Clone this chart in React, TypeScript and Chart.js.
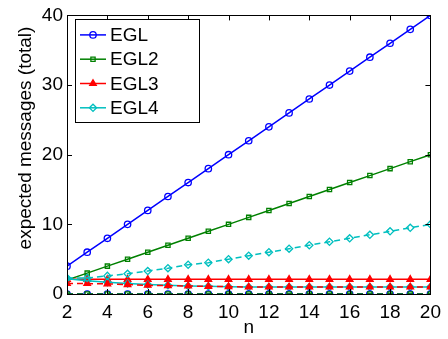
import React, { useEffect, useRef } from "react";
import { Chart, registerables } from "chart.js";
import { drawPoint } from "chart.js/helpers";

Chart.register(...registerables);

const nValues = [2, 3, 4, 5, 6, 7, 8, 9, 10, 11, 12, 13, 14, 15, 16, 17, 18, 19, 20];
const eglTotal = [4, 6, 8, 10, 12, 14, 16, 18, 20, 22, 24, 26, 28, 30, 32, 34, 36, 38, 40];
const egl2Total = [2, 3, 4, 5, 6, 7, 8, 9, 10, 11, 12, 13, 14, 15, 16, 17, 18, 19, 20];
const egl3Total = [2.1, 2.1, 2.1, 2.1, 2.1, 2.1, 2.1, 2.1, 2.1, 2.1, 2.1, 2.1, 2.1, 2.1, 2.1, 2.1, 2.1, 2.1, 2.1];
const egl4Total = [2.2, 1.9, 1.7, 1.5, 1.35, 1.25, 1.15, 1.1, 1.05, 1.0, 1.0, 1.0, 1.0, 1.0, 1.0, 1.0, 1.0, 1.0, 1.0];
const eglDashed = [0, 0, 0, 0, 0, 0, 0, 0, 0, 0, 0, 0, 0, 0, 0, 0, 0, 0, 0];
const egl2Dashed = [0, 0, 0, 0, 0, 0, 0, 0, 0, 0, 0, 0, 0, 0, 0, 0, 0, 0, 0];
const egl3Dashed = [1.5, 1.5, 1.45, 1.35, 1.25, 1.2, 1.15, 1.1, 1.05, 1.0, 1.0, 1.0, 1.0, 1.0, 1.0, 1.0, 1.0, 1.0, 1.0];
const egl4Dashed = [2.3, 2.3, 2.6, 2.9, 3.3, 3.7, 4.2, 4.5, 5.0, 5.5, 6.0, 6.5, 7.0, 7.5, 8.0, 8.5, 9.0, 9.5, 10.0];

const seriesLabels = ["EGL", "EGL2", "EGL3", "EGL4"];
const xTicks = [2, 4, 6, 8, 10, 12, 14, 16, 18, 20];
const yTicks = [0, 10, 20, 30, 40];
const xTitle = "n";
const yTitle = "expected messages (total)";

const FONT = "'Liberation Sans', Arial, sans-serif";
const BLUE = "#0000ff";
const GREEN = "#008000";
const RED = "#ff0000";
const CYAN = "#00bfbf";

const pts = (ys: number[]) => nValues.map((x, i) => ({ x, y: ys[i] }));

type Style = { color: string; pointStyle: string; fill: string };
const styles: Style[] = [
  { color: BLUE, pointStyle: "circle", fill: "rgba(0,0,0,0)" },
  { color: GREEN, pointStyle: "rect", fill: "rgba(0,0,0,0)" },
  { color: RED, pointStyle: "triangle", fill: RED },
  { color: CYAN, pointStyle: "rectRot", fill: "rgba(0,0,0,0)" },
];

const radiusFor = (ps: string) => (ps === "rect" ? 3 : ps === "rectRot" ? 3.6 : ps === "triangle" ? 3.8 : 3.2);

function ds(label: string, ys: number[], s: Style, dashed: boolean) {
  return {
    label,
    data: pts(ys),
    borderColor: s.color,
    backgroundColor: s.fill,
    borderWidth: 1.5,
    borderDash: dashed ? [6, 4] : [],
    pointStyle: s.pointStyle,
    pointRadius: radiusFor(s.pointStyle),
    pointBorderWidth: 1.3,
    pointBorderColor: s.color,
    pointBackgroundColor: s.fill,
    tension: 0,
    fill: false,
  } as any;
}

const boxPlugin = {
  id: "boxTicks",
  afterDraw(chart: any) {
    const { ctx, chartArea } = chart;
    const { left, right, top, bottom } = chartArea;
    const xs = chart.scales.x;
    const ys = chart.scales.y;
    ctx.save();
    ctx.strokeStyle = "#000";
    ctx.lineWidth = 1;
    ctx.strokeRect(Math.round(left) + 0.5, Math.round(top) + 0.5, Math.round(right - left), Math.round(bottom - top));
    const tl = 5;
    ctx.beginPath();
    xTicks.forEach((v) => {
      const px = Math.round(xs.getPixelForValue(v)) + 0.5;
      ctx.moveTo(px, bottom);
      ctx.lineTo(px, bottom - tl);
      ctx.moveTo(px, top);
      ctx.lineTo(px, top + tl);
    });
    yTicks.forEach((v) => {
      const py = Math.round(ys.getPixelForValue(v)) + 0.5;
      ctx.moveTo(left, py);
      ctx.lineTo(left + tl, py);
      ctx.moveTo(right, py);
      ctx.lineTo(right - tl, py);
    });
    ctx.stroke();

    // y-axis title
    ctx.save();
    ctx.fillStyle = "#000";
    ctx.font = `19px ${FONT}`;
    ctx.textAlign = "center";
    ctx.textBaseline = "middle";
    ctx.translate(26, 138);
    ctx.rotate(-Math.PI / 2);
    ctx.fillText(yTitle, 0, 0);
    ctx.restore();

    // legend
    const lx = left + 8;
    const ly = top + 4;
    const lw = 124;
    const lh = 103;
    ctx.fillStyle = "#fff";
    ctx.fillRect(lx, ly, lw, lh);
    ctx.strokeRect(Math.round(lx) + 0.5, Math.round(ly) + 0.5, lw, lh);
    ctx.font = `19px ${FONT}`;
    ctx.textBaseline = "middle";
    ctx.textAlign = "left";
    seriesLabels.forEach((lab, i) => {
      const s = styles[i];
      const y = ly + 15.5 + i * 24.3;
      ctx.strokeStyle = s.color;
      ctx.lineWidth = 1.5;
      ctx.setLineDash([]);
      ctx.beginPath();
      ctx.moveTo(lx + 5, y);
      ctx.lineTo(lx + 31, y);
      ctx.stroke();
      ctx.lineWidth = 1.3;
      ctx.fillStyle = s.fill;
      drawPoint(ctx, { pointStyle: s.pointStyle as any, radius: radiusFor(s.pointStyle), rotation: 0, borderWidth: 1.3 }, lx + 18, y);
      ctx.fillStyle = "#000";
      ctx.fillText(lab, lx + 35, y + 1);
    });
    ctx.restore();
  },
};

export default function App() {
  const ref = useRef<HTMLCanvasElement | null>(null);
  useEffect(() => {
    document.body.style.margin = "0";
    if (!ref.current) return;
    const datasets = [
      ds("EGL4 dashed", egl4Dashed, styles[3], true),
      ds("EGL3 dashed", egl3Dashed, styles[2], true),
      ds("EGL2 dashed", egl2Dashed, styles[1], true),
      ds("EGL dashed", eglDashed, styles[0], true),
      ds(seriesLabels[3], egl4Total, styles[3], false),
      ds(seriesLabels[2], egl3Total, styles[2], false),
      ds(seriesLabels[1], egl2Total, styles[1], false),
      ds(seriesLabels[0], eglTotal, styles[0], false),
    ];
    const chart = new Chart(ref.current, {
      type: "line",
      data: { datasets },
      options: {
        animation: false,
        responsive: false,
        maintainAspectRatio: false,
        layout: { padding: { top: 13, right: 15, left: 0, bottom: 0 } },
        plugins: { legend: { display: false }, tooltip: { enabled: false } },
        elements: { line: { borderCapStyle: "butt" } },
        scales: {
          x: {
            type: "linear",
            min: 2,
            max: 20,
            afterBuildTicks: (s: any) => {
              s.ticks = xTicks.map((v) => ({ value: v }));
            },
            afterFit: (s: any) => {
              s.height = 45;
            },
            grid: { display: false, drawTicks: false },
            border: { display: false },
            ticks: { color: "#000", font: { family: FONT, size: 19 }, padding: 7, maxRotation: 0, autoSkip: false },
            title: { display: true, text: xTitle, color: "#000", font: { family: FONT, size: 19, lineHeight: 1 }, padding: { top: 0, bottom: 2 } },
          },
          y: {
            type: "linear",
            min: 0,
            max: 40,
            afterBuildTicks: (s: any) => {
              s.ticks = yTicks.map((v) => ({ value: v }));
            },
            afterFit: (s: any) => {
              s.width = 67;
            },
            grid: { display: false, drawTicks: false },
            border: { display: false },
            ticks: { color: "#000", font: { family: FONT, size: 19 }, padding: 4 },
            title: { display: false },
          },
        },
      } as any,
      plugins: [boxPlugin],
    });
    return () => chart.destroy();
  }, []);
  return (
    <div style={{ position: "absolute", left: 0, top: 0, width: 448, height: 339 }}>
      <canvas ref={ref} width={448} height={339} style={{ width: 448, height: 339 }} />
    </div>
  );
}
